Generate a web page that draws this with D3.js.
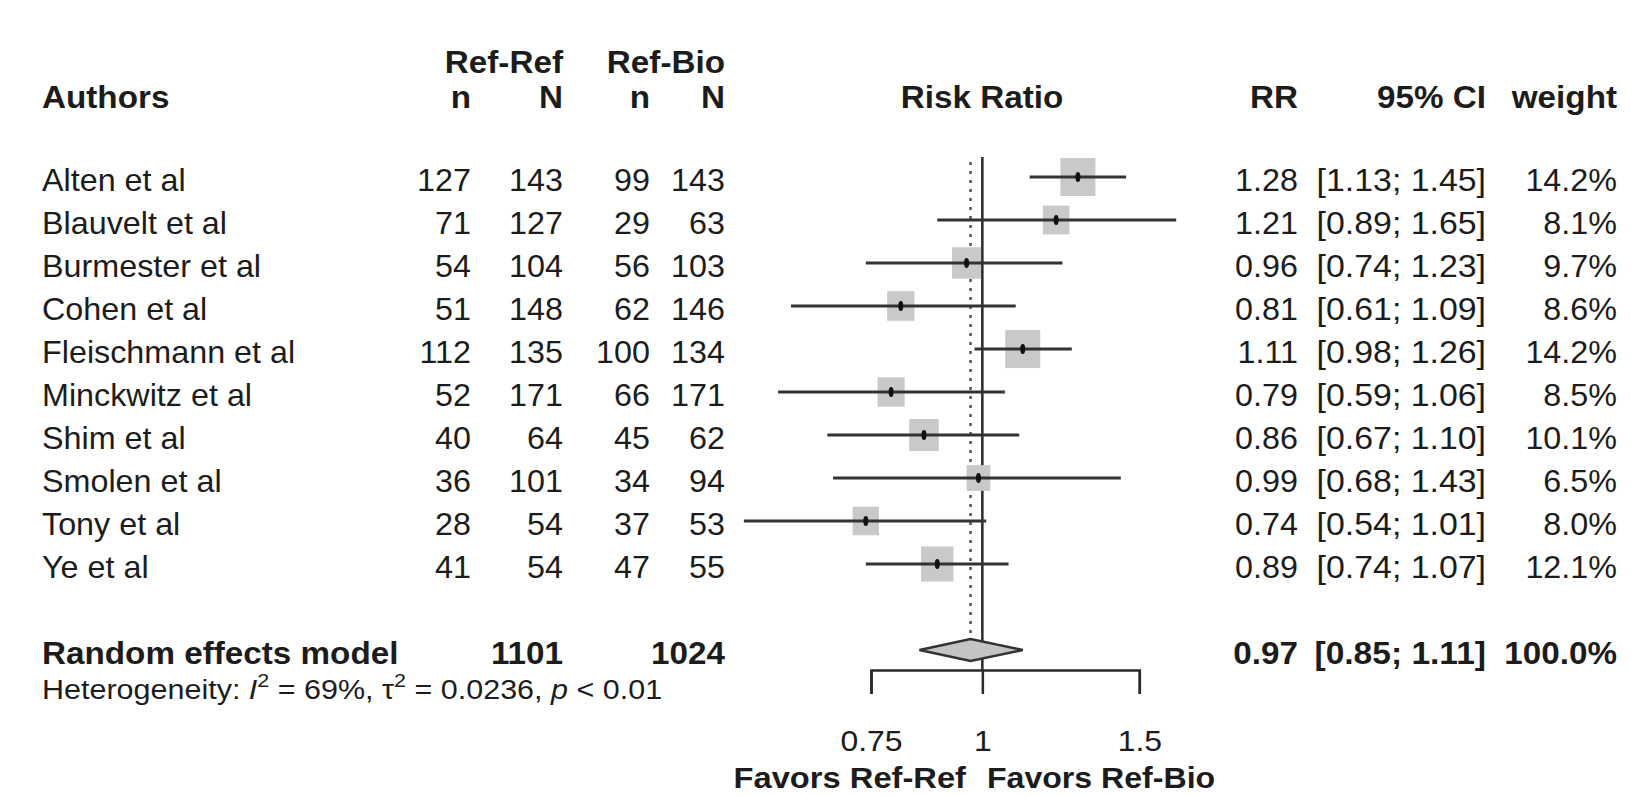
<!DOCTYPE html>
<meta charset="utf-8">
<style>
body { margin: 0; background: #fff; }
svg text { font-family: "Liberation Sans", Arial, sans-serif; fill: #1c1c1c; }
</style>
<svg width="1631" height="795"></svg>
<script src="https://cdn.jsdelivr.net/npm/d3@7"></script>
<script>
// study data
var authors = ["Alten et al", "Blauvelt et al", "Burmester et al", "Cohen et al", "Fleischmann et al",
               "Minckwitz et al", "Shim et al", "Smolen et al", "Tony et al", "Ye et al"];
var refRefN = [127, 71, 54, 51, 112, 52, 40, 36, 28, 41];
var refRefTotal = [143, 127, 104, 148, 135, 171, 64, 101, 54, 54];
var refBioN = [99, 29, 56, 62, 100, 66, 45, 34, 37, 47];
var refBioTotal = [143, 63, 103, 146, 134, 171, 62, 94, 53, 55];
var rr = [1.28, 1.21, 0.96, 0.81, 1.11, 0.79, 0.86, 0.99, 0.74, 0.89];
var lower = [1.13, 0.89, 0.74, 0.61, 0.98, 0.59, 0.67, 0.68, 0.54, 0.74];
var upper = [1.45, 1.65, 1.23, 1.09, 1.26, 1.06, 1.10, 1.43, 1.01, 1.07];
var weight = [14.2, 8.1, 9.7, 8.6, 14.2, 8.5, 10.1, 6.5, 8.0, 12.1];
// pooled
var pooledTotals = [1101, 1024];
var pooled = {rr: 0.97, lower: 0.85, upper: 1.11, weight: 100.0};
var tickValues = [0.75, 1, 1.5];

var svg = d3.select("svg");
var FS = 30.5, SX = 1.06, SXB = 1.09, SXCI = 1.11;

var x = d3.scaleLog().domain([0.75, 1.5]).range([871, 1139.3]);
var rowY = function(i) { return 177 + 43 * i; };
var boxW = function(w) { return 9.3 * Math.sqrt(w); };
var boxH = function(w) { return 10.1 * Math.sqrt(w); };

function txt(px, py, s, anchor, bold, size, sx) {
  var k = sx || (bold ? SXB : SX);
  return svg.append("text")
    .attr("transform", "translate(" + px + "," + py + ") scale(" + k + ",1)")
    .attr("text-anchor", anchor || "start")
    .attr("font-weight", bold ? "bold" : "normal")
    .attr("font-size", (size || FS) + "px")
    .text(s);
}

// column headers
txt(563, 72.5, "Ref-Ref", "end", true);
txt(725, 72.5, "Ref-Bio", "end", true);
txt(42, 107.5, "Authors", "start", true);
txt(471, 107.5, "n", "end", true);
txt(563, 107.5, "N", "end", true);
txt(650, 107.5, "n", "end", true);
txt(725, 107.5, "N", "end", true);
txt(982, 107.5, "Risk Ratio", "middle", true);
txt(1298, 107.5, "RR", "end", true);
txt(1486, 107.5, "95% CI", "end", true);
txt(1617, 107.5, "weight", "end", true);

// study rows text
authors.forEach(function(a, i) {
  var by = rowY(i) + 13.5;
  txt(42, by, a, "start");
  txt(471, by, refRefN[i], "end");
  txt(563, by, refRefTotal[i], "end");
  txt(650, by, refBioN[i], "end");
  txt(725, by, refBioTotal[i], "end");
  txt(1298, by, rr[i].toFixed(2), "end");
  txt(1486, by, "[" + lower[i].toFixed(2) + "; " + upper[i].toFixed(2) + "]", "end", false, FS, SXCI);
  txt(1617, by, weight[i].toFixed(1) + "%", "end");
});

// summary row text
var sy = rowY(11) + 13.5;
txt(42, sy, "Random effects model", "start", true);
txt(563, sy, pooledTotals[0], "end", true);
txt(725, sy, pooledTotals[1], "end", true);
txt(1298, sy, pooled.rr.toFixed(2), "end", true);
txt(1486, sy, "[" + pooled.lower.toFixed(2) + "; " + pooled.upper.toFixed(2) + "]", "end", true, FS, 1.1);
txt(1617, sy, pooled.weight.toFixed(1) + "%", "end", true);

// heterogeneity line
var het = txt(42, 698.5, "", "start", false, 27, 1.13);
het.append("tspan").text("Heterogeneity: ");
het.append("tspan").attr("font-style", "italic").text("I");
het.append("tspan").attr("font-size", "19px").attr("dy", -12).text("2");
het.append("tspan").attr("dy", 12).text(" = 69%, \u03c4");
het.append("tspan").attr("font-size", "19px").attr("dy", -12).text("2");
het.append("tspan").attr("dy", 12).text(" = 0.0236, ");
het.append("tspan").attr("font-style", "italic").text("p");
het.append("tspan").text(" < 0.01");

// reference lines
svg.append("line")
  .attr("x1", x(1)).attr("x2", x(1))
  .attr("y1", 157).attr("y2", 670)
  .attr("stroke", "#2a2a2a").attr("stroke-width", 2.5);
svg.append("line")
  .attr("x1", x(pooled.rr)).attr("x2", x(pooled.rr))
  .attr("y1", 162).attr("y2", rowY(11) - 12)
  .attr("stroke", "#555").attr("stroke-width", 2.5)
  .attr("stroke-dasharray", "3,6");

// study squares and CIs
var rows = svg.append("g").selectAll("g").data(authors).enter().append("g");
rows.append("rect")
  .attr("x", function(d, i) { return x(rr[i]) - boxW(weight[i]) / 2; })
  .attr("y", function(d, i) { return rowY(i) - boxH(weight[i]) / 2; })
  .attr("width", function(d, i) { return boxW(weight[i]); })
  .attr("height", function(d, i) { return boxH(weight[i]); })
  .attr("fill", "#c9c9c9");
rows.append("line")
  .attr("x1", function(d, i) { return x(lower[i]); })
  .attr("x2", function(d, i) { return x(upper[i]); })
  .attr("y1", function(d, i) { return rowY(i); })
  .attr("y2", function(d, i) { return rowY(i); })
  .attr("stroke", "#333").attr("stroke-width", 3);
rows.append("ellipse")
  .attr("cx", function(d, i) { return x(rr[i]); })
  .attr("cy", function(d, i) { return rowY(i); })
  .attr("rx", 2.5).attr("ry", 5)
  .attr("fill", "#111");

// pooled diamond
var dy0 = rowY(11);
svg.append("path")
  .attr("d", "M" + x(pooled.lower) + "," + dy0 +
             "L" + x(pooled.rr) + "," + (dy0 - 11) +
             "L" + x(pooled.upper) + "," + dy0 +
             "L" + x(pooled.rr) + "," + (dy0 + 11) + "Z")
  .attr("fill", "#c4c4c4").attr("stroke", "#333").attr("stroke-width", 2.5);

// x axis
var axis = svg.append("g")
  .attr("transform", "translate(0,670)")
  .call(d3.axisBottom(x).tickValues(tickValues).tickSize(24).tickSizeOuter(24)
        .tickPadding(36).tickFormat(function(d) { return String(d); }));
axis.select(".domain").attr("stroke", "#2a2a2a").attr("stroke-width", 2.5);
axis.selectAll(".tick line").attr("stroke", "#2a2a2a").attr("stroke-width", 2.5);
axis.selectAll(".tick text")
  .attr("font-size", "29px")
  .attr("font-family", "Liberation Sans, Arial, sans-serif")
  .attr("fill", "#333")
  .attr("transform", "scale(1.1,1)");

// direction labels, kept inside the bottom edge
txt(966, 787.5, "Favors Ref-Ref", "end", true, 30);
txt(987, 787.5, "Favors Ref-Bio", "start", true, 30, 1.07);
</script>
